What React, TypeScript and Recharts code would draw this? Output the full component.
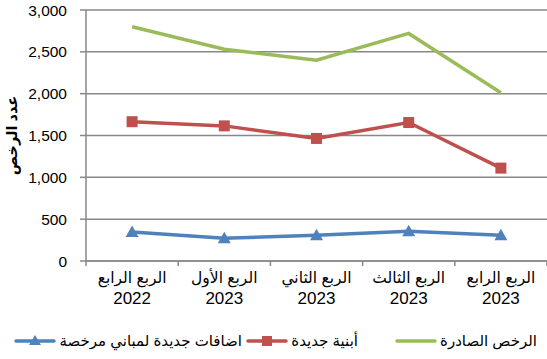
import React from 'react';
import { LineChart, Line, XAxis, YAxis, CartesianGrid } from 'recharts';

// Quarter labels (two lines each)
const quarters = ['الربع الرابع', 'الربع الأول', 'الربع الثاني', 'الربع الثالث', 'الربع الرابع'];
const years = ['2022', '2023', '2023', '2023', '2023'];

// Series values
const issuedPermits = [2800, 2530, 2400, 2720, 2010];
const newBuildings = [1665, 1615, 1465, 1655, 1110];
const additions = [348, 272, 308, 355, 308];

const yTicks = [0, 500, 1000, 1500, 2000, 2500, 3000];

const seriesNames = {
  issued: 'الرخص الصادرة',
  buildings: 'أبنية جديدة',
  additions: 'اضافات جديدة لمباني مرخصة',
};

const GREEN = '#9BBB59';
const RED = '#C0504D';
const BLUE = '#4F81BD';
const GRID = '#888888';
const FONT = '"Liberation Sans", Arial, "DejaVu Sans", sans-serif';

const W = 547;
const H = 359;
const LEFT = 86;
const RIGHT = 0;
const BAND = (W - LEFT - RIGHT) / quarters.length;

const chartData = quarters.map((q, i) => ({
  key: `${i}`,
  quarter: q,
  year: years[i],
  issued: issuedPermits[i],
  buildings: newBuildings[i],
  additions: additions[i],
}));

const QuarterTick = (props: any) => {
  const { x, y, payload, index } = props;
  const d = chartData[index] || chartData[Number(payload.value)];
  const left = x - BAND / 2;
  return (
    <g>
      <line x1={left} y1={y - 8} x2={left} y2={y - 3} stroke={GRID} strokeWidth={1.5} />
      {index === quarters.length - 1 && (
        <line x1={left + BAND} y1={y - 8} x2={left + BAND} y2={y - 3} stroke={GRID} strokeWidth={1.5} />
      )}
      <text x={x} y={y + 14} textAnchor="middle" fontSize={15.5} fill="#000" fontFamily={FONT} direction="rtl">
        {d.quarter}
      </text>
      <text x={x} y={y + 35} textAnchor="middle" fontSize={17} fill="#000" fontFamily={FONT}>
        {d.year}
      </text>
    </g>
  );
};

const YLabel = (props: any) => {
  const vb = props.viewBox || { y: 10, height: 251 };
  const cy = vb.y + vb.height / 2;
  return (
    <text
      transform={`translate(12, ${cy}) rotate(-90)`}
      textAnchor="middle"
      dominantBaseline="central"
      fontSize={14.5}
      fontWeight="bold"
      fill="#000"
      fontFamily={FONT}
      direction="rtl"
    >
      عدد الرخص
    </text>
  );
};

const SquareDot = (props: any) => {
  const { cx, cy } = props;
  if (cx == null || cy == null) return null;
  return <rect x={cx - 5.5} y={cy - 5.5} width={11} height={11} fill={RED} />;
};

const TriangleDot = (props: any) => {
  const { cx, cy } = props;
  if (cx == null || cy == null) return null;
  return <path d={`M${cx},${cy - 6.5} L${cx + 6.5},${cy + 5} L${cx - 6.5},${cy + 5} Z`} fill={BLUE} />;
};

const LegendIcon = ({ color, marker }: { color: string; marker?: string }) => (
  <svg width={42} height={12} style={{ display: 'block' }}>
    <line x1={2} y1={6} x2={40} y2={6} stroke={color} strokeWidth={3.5} strokeLinecap="round" />
    {marker === 'square' && <rect x={16} y={1} width={10} height={10} fill={color} />}
    {marker === 'triangle' && <path d="M21,0 L27,10 L15,10 Z" fill={color} />}
  </svg>
);

// right offset of each legend entry (layout only)
const legendItems = [
  { name: seriesNames.issued, color: GREEN, marker: '', right: 10 },
  { name: seriesNames.buildings, color: RED, marker: 'square', right: 189 },
  { name: seriesNames.additions, color: BLUE, marker: 'triangle', right: 305 },
];

export default function App() {
  return (
    <div style={{ position: 'relative', width: W, height: H, background: '#fff' }}>
      <style>{'body{margin:0}'}</style>
      <LineChart
        width={W}
        height={H}
        data={chartData}
        margin={{ top: 10, right: RIGHT, left: 0, bottom: 43 }}
      >
        <CartesianGrid vertical={false} stroke={GRID} strokeWidth={1.5} />
        <XAxis
          dataKey="key"
          scale="band"
          height={55}
          axisLine={{ stroke: GRID, strokeWidth: 1.5 }}
          tickLine={false}
          tick={<QuarterTick />}
          interval={0}
        />
        <YAxis
          width={LEFT}
          domain={[0, 3000]}
          ticks={yTicks}
          interval={0}
          tickFormatter={(v: number) => v.toLocaleString('en-US')}
          axisLine={{ stroke: GRID, strokeWidth: 1.5 }}
          tickLine={{ stroke: GRID, strokeWidth: 1.5 }}
          tickSize={6}
          tickMargin={13}
          tick={{ fontSize: 15.5, fill: '#000', fontFamily: FONT }}
          label={<YLabel />}
        />
        <Line
          dataKey="issued"
          name={seriesNames.issued}
          stroke={GREEN}
          strokeWidth={3.5}
          dot={false}
          isAnimationActive={false}
        />
        <Line
          dataKey="buildings"
          name={seriesNames.buildings}
          stroke={RED}
          strokeWidth={3.5}
          dot={<SquareDot />}
          isAnimationActive={false}
        />
        <Line
          dataKey="additions"
          name={seriesNames.additions}
          stroke={BLUE}
          strokeWidth={3.5}
          dot={<TriangleDot />}
          isAnimationActive={false}
        />
      </LineChart>
      {legendItems.map((it) => (
        <div
          key={it.name}
          style={{
            position: 'absolute',
            top: 332,
            right: it.right,
            display: 'flex',
            direction: 'rtl',
            alignItems: 'center',
            gap: 3,
            fontFamily: FONT,
            fontSize: 15,
            color: '#000',
          }}
        >
          <span style={{ whiteSpace: 'nowrap' }}>{it.name}</span>
          <LegendIcon color={it.color} marker={it.marker} />
        </div>
      ))}
    </div>
  );
}
